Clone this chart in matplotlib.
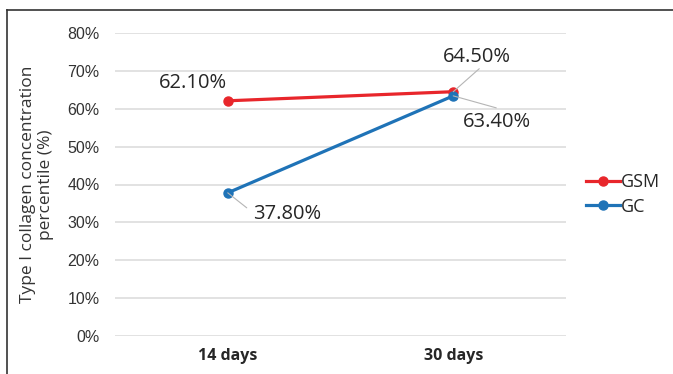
import matplotlib
matplotlib.use("Agg")
import matplotlib.pyplot as plt
from matplotlib.ticker import PercentFormatter

categories = ["14 days", "30 days"]
gsm = [62.1, 64.5]
gc = [37.8, 63.4]
y_ticks = [0, 10, 20, 30, 40, 50, 60, 70, 80]

RED = "#e8262b"
BLUE = "#1f73b7"
TEXT = "#262626"

fig = plt.figure(figsize=(6.73, 3.74), dpi=100)
W, H = 673, 374
# plot area in pixel coordinates
x0, x1 = 115, 566
ytop, ybot = 33, 336
ax = fig.add_axes([x0 / W, 1 - ybot / H, (x1 - x0) / W, (ybot - ytop) / H])

xs = [0, 1]
ax.plot(xs, gsm, color=RED, lw=2.3, marker="o", ms=6.5, label="GSM", zorder=3)
ax.plot(xs, gc, color=BLUE, lw=2.3, marker="o", ms=6.5, label="GC", zorder=3)

ax.set_xlim(-0.5, 1.5)
ax.set_ylim(0, 80)
ax.set_yticks(y_ticks)
ax.yaxis.set_major_formatter(PercentFormatter(decimals=0))
ax.grid(axis="y", color="#dadada", lw=1.1)
ax.set_axisbelow(True)
for s in ax.spines.values():
    s.set_visible(False)
ax.tick_params(axis="y", length=0, pad=11)
for t in ax.get_yticklabels():
    t.set_fontfamily("Liberation Sans")
    t.set_fontsize(11.5)
    t.set_color("#333333")
ax.set_xticks(xs)
ax.set_xticklabels(categories, fontsize=11.5, fontweight="bold", color=TEXT,
                   fontfamily="Open Sans")
ax.tick_params(axis="x", length=0, pad=9)

ax.set_ylabel("Type I collagen concentration\npercentile (%)", fontsize=12.5,
              fontfamily="Open Sans", color="#333333", linespacing=1.15)
ax.yaxis.set_label_coords(-0.135, 0.5)

lbl = dict(fontsize=14.5, fontfamily="Open Sans", color=TEXT,
           ha="center", va="center")
leader = dict(arrowstyle="-", color="#b5b5b5", lw=0.8, shrinkA=0, shrinkB=0)
ax.annotate(f"{gsm[0]:.2f}%", (xs[0], gsm[0]), xytext=(-35, 18),
            textcoords="offset pixels", **lbl)
ax.annotate(f"{gc[0]:.2f}%", (xs[0], gc[0]), xytext=(59, -21),
            textcoords="offset pixels", **lbl)
ax.annotate(f"{gsm[1]:.2f}%", (xs[1], gsm[1]), xytext=(24, 35),
            textcoords="offset pixels", **lbl)
ax.annotate(f"{gc[1]:.2f}%", (xs[1], gc[1]), xytext=(44, -26),
            textcoords="offset pixels", **lbl)
# leader lines from the points toward their labels
ax.annotate("", (xs[0], gc[0]), xytext=(19, -15), textcoords="offset pixels",
            arrowprops=leader)
ax.annotate("", (xs[1], gsm[1]), xytext=(26, 23), textcoords="offset pixels",
            arrowprops=leader)
ax.annotate("", (xs[1], gc[1]), xytext=(43, -12), textcoords="offset pixels",
            arrowprops=leader)

leg = ax.legend(loc="center left", bbox_to_anchor=(586 / W, 1 - 194.5 / H),
                bbox_transform=fig.transFigure, frameon=False,
                prop={"family": "Open Sans", "size": 13},
                handlelength=1.9, handletextpad=0.05, labelspacing=0.35,
                borderaxespad=0, borderpad=0)
for t in leg.get_texts():
    t.set_color(TEXT)

# frame lines on the left and top of the figure
fig.add_artist(plt.Line2D([7 / W, 7 / W], [0, 1 - 10 / H], color="#333333",
                          lw=1.2, transform=fig.transFigure))
fig.add_artist(plt.Line2D([7 / W, 1], [1 - 10 / H, 1 - 10 / H], color="#333333",
                          lw=1.2, transform=fig.transFigure))

fig.savefig("out.png", dpi=100, facecolor="white")
